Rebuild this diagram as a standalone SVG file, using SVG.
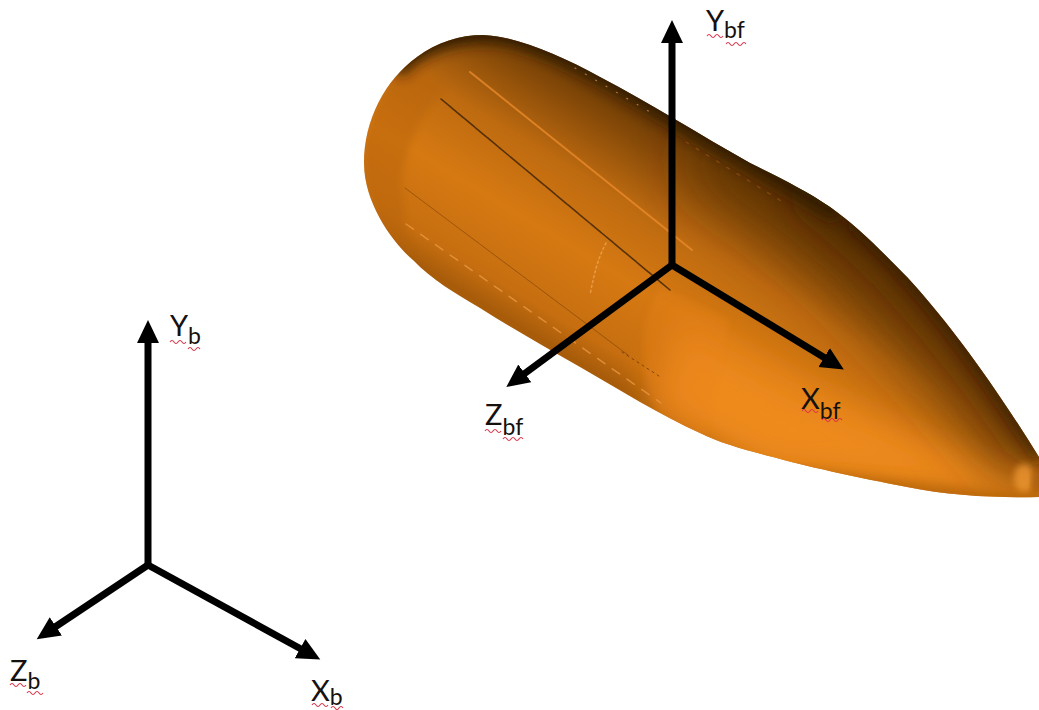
<svg xmlns="http://www.w3.org/2000/svg" width="1039" height="710" viewBox="0 0 1039 710">
<style>
.axis{fill:none;stroke:#000;stroke-width:7;marker-end:url(#head)}
.t{font-family:"Lato","Open Sans",sans-serif;font-size:29px;fill:#15110f}
.s{font-size:23px}
.w{fill:none;stroke:#d8344a;stroke-width:1.1}
.p{fill:none;stroke-linecap:round}
</style>
<defs>
<marker id="head" markerUnits="userSpaceOnUse" markerWidth="26" markerHeight="24" refX="1" refY="12" orient="auto"><path d="M0 1L23 12L0 23Z" fill="#000"/></marker>
<path id="body" d="M364 163C364 120 385 80 417 57C437 42 460 35 483 35C515 36 560 55 600 77C650 103 700 135 750 163C780 178 805 190 830 207C860 228 885 255 907 277C945 318 990 378 1039 457L1039 497C1000 498 950 496 907 487C860 478 800 465 773 457C745 450 720 443 700 433C660 415 620 390 580 367C545 347 510 327 480 308C455 293 432 280 413 260C395 245 364 205 364 163Z"/>
<clipPath id="bc"><use href="#body"/></clipPath>
<filter id="b40" x="-40%" y="-40%" width="180%" height="180%"><feGaussianBlur stdDeviation="30"/></filter>
<filter id="b20" x="-30%" y="-30%" width="160%" height="160%"><feGaussianBlur stdDeviation="18"/></filter>
<filter id="b8" x="-30%" y="-30%" width="160%" height="160%"><feGaussianBlur stdDeviation="7"/></filter>
<filter id="b3" x="-30%" y="-30%" width="160%" height="160%"><feGaussianBlur stdDeviation="3"/></filter>
<linearGradient id="g" gradientUnits="userSpaceOnUse" x1="700" y1="120" x2="560" y2="350">
<stop offset="0" stop-color="#3d2200"/>
<stop offset=".14" stop-color="#7a4306"/>
<stop offset=".4" stop-color="#bd6a10"/>
<stop offset=".65" stop-color="#d67912"/>
<stop offset=".9" stop-color="#c66e10"/>
<stop offset="1" stop-color="#a85c0a"/>
</linearGradient>
</defs>
<rect width="1039" height="710" fill="#fff"/>
<g id="fairing">
<use href="#body" fill="url(#g)"/>
<g clip-path="url(#bc)">
<path d="M364 163C364 120 385 80 417 57L445 90C420 110 405 150 401 184L405 225L413 260C395 245 364 205 364 163Z" fill="#b5640c" opacity=".45" filter="url(#b3)"/>
<path d="M680 320C760 370 880 430 1039 480L1039 500L760 470L650 410Z" fill="#ee8a1e" filter="url(#b20)"/>
<path d="M700 150C790 195 880 280 1039 470" fill="none" stroke="#5a3102" stroke-width="44" filter="url(#b40)"/>
<path d="M800 190C860 225 940 310 1039 455" fill="none" stroke="#3d2100" stroke-width="16" filter="url(#b20)"/>
<path d="M850 222C900 262 970 350 1039 457" fill="none" stroke="#2e1800" stroke-width="8" filter="url(#b8)"/>
<path d="M395 70C420 40 470 25 520 38C580 55 640 95 700 130L840 212" fill="none" stroke="#331b00" stroke-width="20" filter="url(#b8)"/>
<path d="M760 472L1039 505" fill="none" stroke="#a85c0a" stroke-width="10" filter="url(#b8)"/>
<path d="M645 320C640 360 645 395 665 425L700 450L730 320L660 285Z" fill="#e8831a" opacity=".3" filter="url(#b3)"/>
<ellipse cx="1024" cy="478" rx="10" ry="14" fill="#f09a35" opacity=".75" filter="url(#b3)"/>
<ellipse cx="1036" cy="481" rx="4" ry="11" fill="#a95f0e" opacity=".9" filter="url(#b3)"/>
<path class="p" d="M470 72L692 250" stroke="#e8892a" stroke-width="2" opacity=".8"/>
<path class="p" d="M441 99L670 290" stroke="#3b2108" stroke-width="1.6" opacity=".8" stroke-dasharray="14 1"/>
<path class="p" d="M405 188L628 355" stroke="#7a4308" stroke-width="1" opacity=".6"/>
<path class="p" d="M622 352L662 378" stroke="#5b3208" stroke-width="1" stroke-dasharray="2 4" opacity=".7"/>
<path class="p" d="M406 224L661 403" stroke="#eb9a46" stroke-width="1.5" stroke-dasharray="9 9" opacity=".75"/>
<path class="p" d="M606 243C598 258 594 274 590 295" stroke="#eea04e" stroke-width="1.6" stroke-dasharray="2 3" opacity=".8"/>
<path class="p" d="M575 68L650 112" stroke="#c88a50" stroke-width="1.2" stroke-dasharray="1 11" opacity=".8"/>
<path class="p" d="M686 142L786 204" stroke="#b0691c" stroke-width="1.4" stroke-dasharray="3 9" opacity=".4"/>
</g>
</g>
<g id="connectors">
<path class="axis" d="M672 265V42"/>
<path class="axis" d="M672 265L825 358"/>
<path class="axis" d="M672 265L524 374"/>
<path class="axis" d="M148 565V342"/>
<path class="axis" d="M148 565L301 649"/>
<path class="axis" d="M148 565L55 627"/>
</g>
<g id="label-ybf"><text class="t" x="706" y="31">Y<tspan class="s" dy="7">bf</tspan></text><path class="w" d="M707 36q2-3 4 0t4 0t4 0t4 0M726 44q2-3 4 0t4 0t4 0t4 0t4 0"/></g>
<g id="label-xbf"><text class="t" x="801" y="409">X<tspan class="s" dy="10">bf</tspan></text><path class="w" d="M802 411q2-3 4 0t4 0t4 0t4 0M822 420q2-3 4 0t4 0t4 0t4 0t4 0"/></g>
<g id="label-zbf"><text class="t" x="485" y="425">Z<tspan class="s" dy="10">bf</tspan></text><path class="w" d="M485 431q2-3 4 0t4 0t4 0t4 0M503 439q2-3 4 0t4 0t4 0t4 0t4 0"/></g>
<g id="label-yb"><text class="t" x="170" y="336">Y<tspan class="s" dy="8">b</tspan></text><path class="w" d="M170 342q2-3 4 0t4 0t4 0t4 0M188 349q2-3 4 0t4 0t4 0"/></g>
<g id="label-zb"><text class="t" x="10" y="681">Z<tspan class="s" dy="8">b</tspan></text><path class="w" d="M10 685q2-3 4 0t4 0t4 0t4 0M27 693q2-3 4 0t4 0t4 0t4 0"/></g>
<g id="label-xb"><text class="t" x="311" y="701">X<tspan class="s" dy="4">b</tspan></text><path class="w" d="M312 705q2-3 4 0t4 0t4 0t4 0M331 708q2-3 4 0t4 0t4 0"/></g>
</svg>
